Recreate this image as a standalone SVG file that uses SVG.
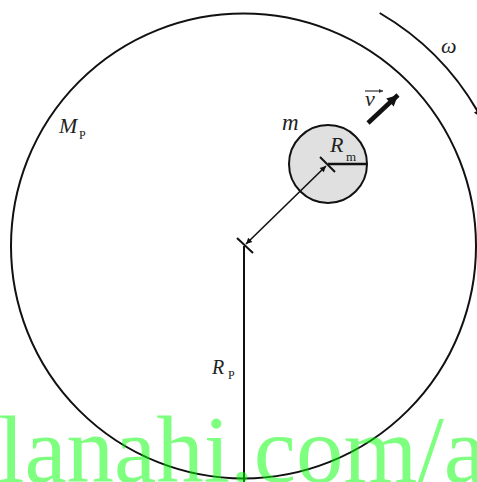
<svg xmlns="http://www.w3.org/2000/svg" width="477" height="482" viewBox="0 0 477 482">
<style>
.ln{fill:none;stroke:#111;stroke-linecap:butt}
.it{font-style:italic;fill:#222}
.sub{fill:#222}
.wm{fill:#00ff00;fill-opacity:0.5}
</style>
<defs>
<marker id="ah" viewBox="0 0 10 10" refX="10" refY="5" markerWidth="9" markerHeight="6" markerUnits="userSpaceOnUse" orient="auto-start-reverse">
<path d="M0,0 L10,5 L0,10 z" fill="#111"/>
</marker>
<marker id="ahBig" viewBox="0 0 10 10" refX="10" refY="5" markerWidth="14" markerHeight="11" markerUnits="userSpaceOnUse" orient="auto">
<path d="M0,0 L10,5 L0,10 z" fill="#111"/>
</marker>
<marker id="ahW" viewBox="0 0 10 10" refX="10" refY="5" markerWidth="11" markerHeight="8" markerUnits="userSpaceOnUse" orient="auto">
<path d="M0,0 L10,5 L0,10 z" fill="#111"/>
</marker>
<marker id="ahS" viewBox="0 0 10 10" refX="10" refY="5" markerWidth="6" markerHeight="4" markerUnits="userSpaceOnUse" orient="auto">
<path d="M0,0 L10,5 L0,10 z" fill="#333"/>
</marker>
</defs>
<rect width="477" height="482" fill="#ffffff"/>
<g font-family="Liberation Serif, DejaVu Serif, serif">
<g id="planet">
<circle cx="243.5" cy="246" r="232.5" class="ln" stroke-width="2"/>
<text class="it" x="59" y="133" font-size="22">M</text>
<text class="sub" x="79" y="139" font-size="12">P</text>
</g>
<g id="moon">
<circle cx="328" cy="164" r="39" fill="#e0e0e0" stroke="#111" stroke-width="2"/>
<line x1="328" y1="164" x2="367" y2="164" class="ln" stroke-width="2.5"/>
<text class="it" x="282" y="130" font-size="23">m</text>
<text class="it" x="330" y="152" font-size="22">R</text>
<text class="sub" x="346" y="161" font-size="13">m</text>
</g>
<g id="rotation">
<path d="M379.7,13 A271,271 0 0 1 481.2,117.7" class="ln" stroke-width="2" marker-end="url(#ahW)"/>
<text class="it" x="441" y="53" font-size="22">ω</text>
</g>
<g id="velocity">
<line x1="368" y1="123" x2="398" y2="95" class="ln" stroke-width="4.5" marker-end="url(#ahBig)"/>
<text class="it" x="365" y="106" font-size="22">v</text>
<line x1="365" y1="91" x2="383" y2="91" stroke="#333" stroke-width="1.2" marker-end="url(#ahS)"/>
</g>
<g id="connectors">
<line x1="237" y1="238" x2="253" y2="253" class="ln" stroke-width="2"/>
<line x1="320" y1="157" x2="335" y2="172" class="ln" stroke-width="2"/>
<line x1="246" y1="244" x2="326" y2="166" class="ln" stroke-width="1.6" marker-start="url(#ah)" marker-end="url(#ah)"/>
<line x1="244" y1="246" x2="244" y2="482" class="ln" stroke-width="2"/>
<text class="it" x="212" y="374" font-size="20">R</text>
<text class="sub" x="228" y="379" font-size="12">P</text>
</g>
<text class="wm" x="-2" y="482" font-size="95">lanahi.com/a</text>
</g>
</svg>
